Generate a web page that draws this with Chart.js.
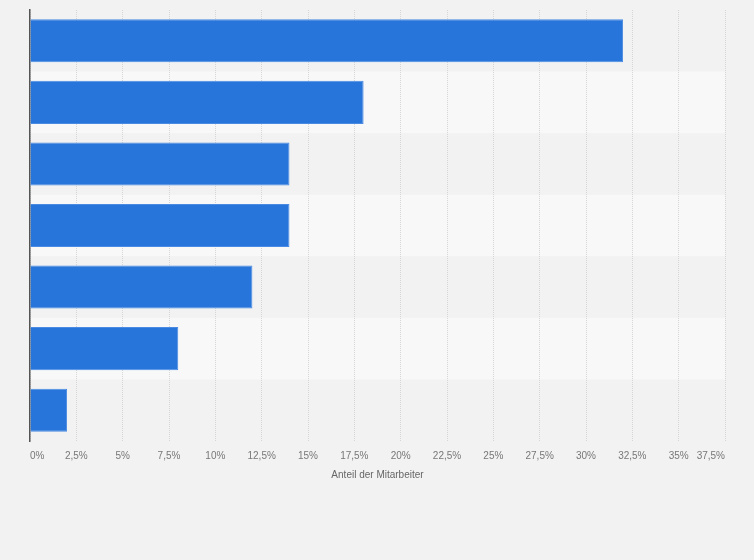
<!DOCTYPE html>
<html>
<head>
<meta charset="utf-8">
<script src="https://cdn.jsdelivr.net/npm/chart.js@4"></script>
<style>
html,body{margin:0;padding:0;background:#f2f2f2;}
#wrap{width:754px;height:560px;position:relative;}
</style>
</head>
<body>
<div id="wrap"><canvas id="c" width="754" height="560"></canvas></div>
<script>
const categories = ["", "", "", "", "", "", ""];
const values = [32, 18, 14, 14, 12, 8, 2];
const tickValues = [0, 2.5, 5, 7.5, 10, 12.5, 15, 17.5, 20, 22.5, 25, 27.5, 30, 32.5, 35, 37.5];
const axisTitle = "Anteil der Mitarbeiter";

const bandPlugin = {
  id: 'bands',
  beforeDraw(chart) {
    const {ctx, chartArea} = chart;
    const y = chart.scales.y;
    ctx.save();
    for (let i = 0; i < categories.length; i++) {
      if (i % 2 === 1) {
        const c = y.getPixelForValue(i);
        const h = (chartArea.bottom - chartArea.top) / categories.length;
        ctx.fillStyle = '#f8f8f8';
        ctx.fillRect(chartArea.left, c - h / 2, chartArea.right - chartArea.left, h);
      }
    }
    ctx.restore();
  }
};

new Chart(document.getElementById('c'), {
  type: 'bar',
  data: {
    labels: categories,
    datasets: [{
      data: values,
      backgroundColor: '#2775db',
      borderColor: '#4a8ae2',
      borderWidth: 1,
      barPercentage: 0.7,
      categoryPercentage: 1.0
    }]
  },
  plugins: [bandPlugin],
  options: {
    indexAxis: 'y',
    responsive: false,
    animation: false,
    devicePixelRatio: 1,
    layout: { padding: { left: 30, right: 29, top: 10, bottom: 79 } },
    plugins: { legend: { display: false }, tooltip: { enabled: false } },
    scales: {
      x: {
        type: 'linear',
        min: 0,
        max: 37.5,
        afterBuildTicks(s) { s.ticks = tickValues.map(v => ({ value: v })); },
        afterFit(s) { s.height = 40; },
        ticks: {
          padding: 9,
          align: 'inner',
          color: '#777',
          font: { family: 'Arial, "Liberation Sans", sans-serif', size: 10 },
          callback: v => String(v).replace('.', ',') + '%',
          maxRotation: 0,
          autoSkip: false
        },
        grid: {
          color: '#d6d6d6',
          lineWidth: 1,
          drawTicks: false
        },
        border: { display: false, dash: [1, 1] },
        title: {
          display: true,
          text: axisTitle,
          color: '#666',
          font: { family: 'Arial, "Liberation Sans", sans-serif', size: 10 },
          padding: { top: 0, bottom: 0 }
        }
      },
      y: {
        ticks: { display: false },
        grid: { display: false, drawTicks: false },
        border: { display: true, color: '#555', width: 1.5 },
        afterFit(s) { s.width = 0; }
      }
    }
  }
});
</script>
</body>
</html>
